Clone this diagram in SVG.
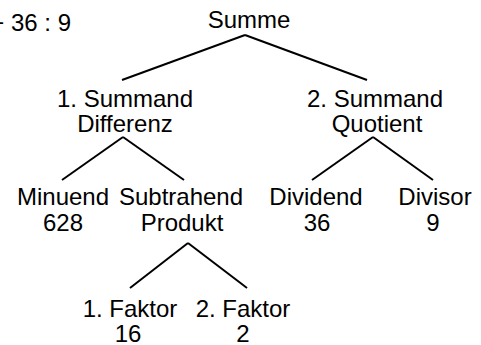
<svg xmlns="http://www.w3.org/2000/svg" width="481" height="345" viewBox="0 0 481 345">
<style>
text{font-family:"Liberation Sans",Arial,sans-serif;font-size:24px;fill:#000;text-anchor:middle}
.c line{stroke:#000;stroke-width:2;stroke-linecap:butt}
</style>
<rect width="481" height="345" fill="#fff"/>
<text id="expr" x="71" y="31" style="text-anchor:end">+ 36 : 9</text>
<g class="c" id="connectors">
<line x1="245" y1="35" x2="122" y2="80"/>
<line x1="245" y1="35" x2="367" y2="80"/>
<line x1="123" y1="137" x2="62" y2="180"/>
<line x1="123" y1="137" x2="184" y2="180"/>
<line x1="373" y1="137" x2="312" y2="180"/>
<line x1="373" y1="137" x2="433" y2="180"/>
<line x1="188" y1="243" x2="130" y2="288"/>
<line x1="188" y1="243" x2="247" y2="288"/>
</g>
<g id="summe"><text x="249" y="28">Summe</text></g>
<g id="summand1"><text x="125" y="107">1. Summand</text><text x="125" y="132">Differenz</text></g>
<g id="summand2"><text x="375" y="107">2. Summand</text><text x="377" y="132">Quotient</text></g>
<g id="minuend"><text x="63" y="205">Minuend</text><text x="63" y="231">628</text></g>
<g id="subtrahend"><text x="181" y="205">Subtrahend</text><text x="182" y="231">Produkt</text></g>
<g id="dividend"><text x="316" y="205">Dividend</text><text x="317" y="231">36</text></g>
<g id="divisor"><text x="435" y="205">Divisor</text><text x="433" y="231">9</text></g>
<g id="faktor1"><text x="130" y="317">1. Faktor</text><text x="128" y="342">16</text></g>
<g id="faktor2"><text x="243" y="317">2. Faktor</text><text x="243" y="342">2</text></g>
</svg>
